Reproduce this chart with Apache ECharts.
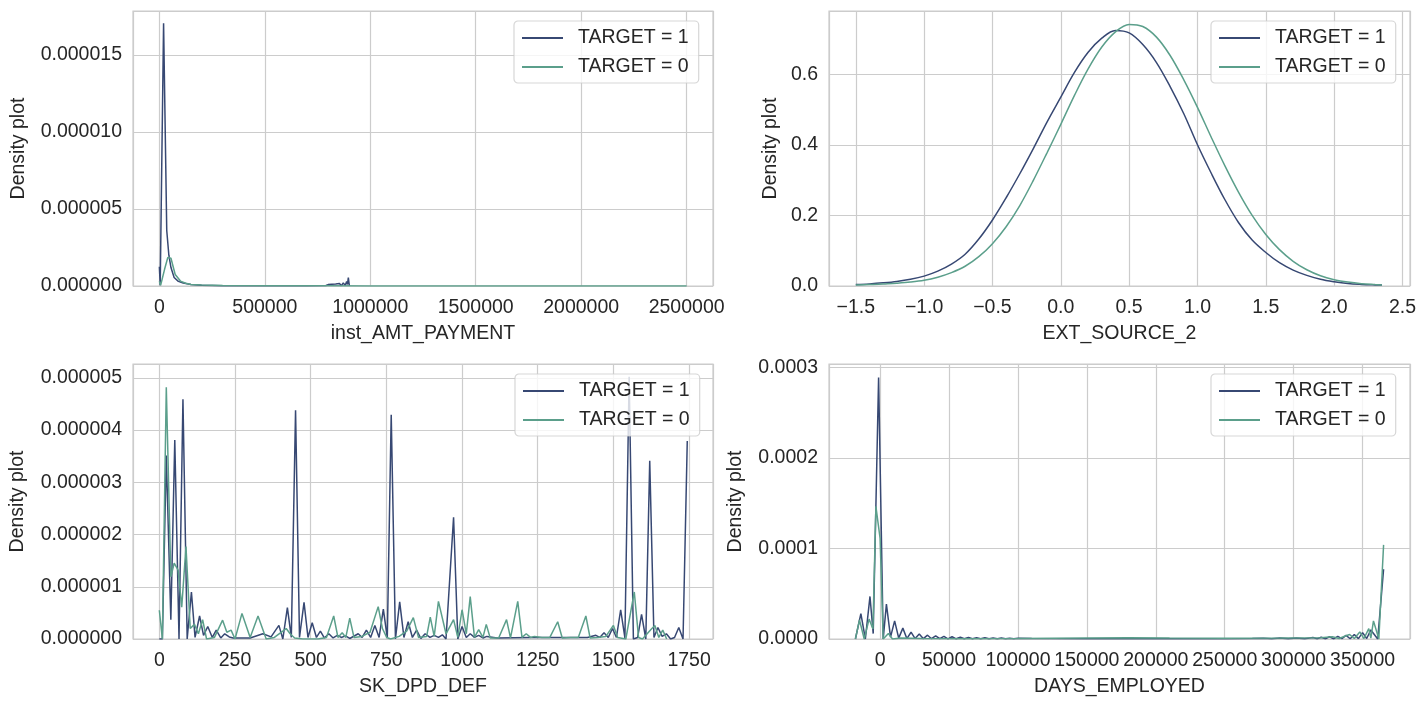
<!DOCTYPE html>
<html><head><meta charset="utf-8">
<script src="https://cdn.jsdelivr.net/npm/echarts@6/dist/echarts.min.js"></script>
<style>html,body{margin:0;padding:0;background:#fff}#c{width:1428px;height:707px}</style>
</head><body><div id="c"></div>
<script>
// ---------- series names ----------
const NAME_T1 = 'TARGET = 1';
const NAME_T0 = 'TARGET = 0';

// ---------- panel 1: inst_AMT_PAYMENT ----------
const p1T1 = [[0,1.25e-6],[4000,0.05e-6],[20000,17.06e-6],[35000,3.6e-6],[45000,2.0e-6],[55000,1.2e-6],[70000,0.55e-6],[90000,0.3e-6],[113000,0.2e-6],[150000,0.1e-6],[200000,0.05e-6],[300000,0.02e-6],[500000,0.01e-6],[700000,0.02e-6],[790000,0.03e-6],[800000,0.09e-6],[809000,0.01e-6],[818000,0.11e-6],[827000,0.01e-6],[836000,0.13e-6],[845000,0.02e-6],[854000,0.16e-6],[863000,0.02e-6],[872000,0.2e-6],[881000,0.03e-6],[888000,0.3e-6],[892000,0.1e-6],[896000,0.55e-6],[901000,0]];
const p1T0 = [[0,0.3e-6],[6000,0.05e-6],[25000,1.1e-6],[40000,1.85e-6],[55000,1.8e-6],[75000,0.75e-6],[100000,0.32e-6],[125000,0.18e-6],[150000,0.1e-6],[200000,0.06e-6],[300000,0.03e-6],[500000,0.015e-6],[800000,0.01e-6],[1000000,0.006e-6],[1500000,0.003e-6],[2000000,0.002e-6],[2500000,0.001e-6]];
const p1XTickVals = [0,500000,1000000,1500000,2000000,2500000];
const p1XTickLabels = ['0','500000','1000000','1500000','2000000','2500000'];
const p1YTickVals = [0,0.000005,0.000010,0.000015];
const p1YTickLabels = ['0.000000','0.000005','0.000010','0.000015'];

// ---------- panel 2: EXT_SOURCE_2 ----------
const p2X = [-1.5,-1.4,-1.3,-1.2,-1.1,-1.0,-0.9,-0.8,-0.7,-0.6,-0.5,-0.4,-0.3,-0.2,-0.1,0.0,0.1,0.2,0.3,0.4,0.5,0.6,0.7,0.8,0.9,1.0,1.1,1.2,1.3,1.4,1.5,1.6,1.7,1.8,1.9,2.0,2.1,2.2,2.3,2.35];
const p2T1 = [0.004,0.006,0.009,0.013,0.019,0.028,0.042,0.062,0.09,0.133,0.187,0.25,0.318,0.39,0.465,0.535,0.605,0.662,0.702,0.724,0.717,0.684,0.633,0.565,0.488,0.40,0.32,0.245,0.18,0.13,0.095,0.066,0.045,0.03,0.019,0.012,0.007,0.0045,0.003,0.0025];
const p2T0 = [0.003,0.004,0.006,0.008,0.011,0.016,0.025,0.038,0.056,0.083,0.12,0.168,0.228,0.30,0.378,0.458,0.54,0.615,0.677,0.72,0.741,0.735,0.705,0.653,0.584,0.506,0.422,0.341,0.266,0.2,0.146,0.103,0.07,0.046,0.029,0.018,0.011,0.0065,0.004,0.003];
const p2XTickVals = [-1.5,-1.0,-0.5,0.0,0.5,1.0,1.5,2.0,2.5];
const p2XTickLabels = ['\u22121.5','\u22121.0','\u22120.5','0.0','0.5','1.0','1.5','2.0','2.5'];
const p2YTickVals = [0,0.2,0.4,0.6];
const p2YTickLabels = ['0.0','0.2','0.4','0.6'];

// ---------- panel 3: SK_DPD_DEF ----------
const p3T1 = [[0,0],[10,0],[23,3.51e-6],[38,0.37e-6],[51,3.81e-6],[65,0],[78,4.59e-6],[92,0],[106,0.9e-6],[118,0.03e-6],[133,0.44e-6],[146,0.07e-6],[160,0.24e-6],[175,0.03e-6],[188,0.17e-6],[203,0.02e-6],[216,0.1e-6],[231,0.04e-6],[244,0.02e-6],[300,0.02e-6],[342,0.1e-6],[369,0.04e-6],[395,0.26e-6],[408,0],[423,0.6e-6],[436,0.03e-6],[450,4.38e-6],[463,0.03e-6],[478,0.7e-6],[491,0.03e-6],[505,0.31e-6],[519,0.03e-6],[532,0.15e-6],[545,0.02e-6],[560,0.1e-6],[574,0.02e-6],[588,0.07e-6],[601,0.03e-6],[615,0.06e-6],[629,0.01e-6],[657,0.1e-6],[670,0.03e-6],[684,0.17e-6],[698,0.03e-6],[712,0.26e-6],[726,0.03e-6],[740,0.57e-6],[753,0.02e-6],[766,4.29e-6],[780,0],[794,0.71e-6],[808,0.03e-6],[822,0.33e-6],[836,0.03e-6],[850,0.17e-6],[864,0.01e-6],[878,0.1e-6],[894,0.03e-6],[908,0.07e-6],[922,0.03e-6],[935,0.08e-6],[947,0],[972,2.33e-6],[986,0],[1000,0.24e-6],[1014,0.03e-6],[1027,0.1e-6],[1041,0.03e-6],[1055,0.07e-6],[1069,0.02e-6],[1082,0.05e-6],[1116,0.02e-6],[1226,0.03e-6],[1337,0.03e-6],[1381,0.03e-6],[1414,0.03e-6],[1442,0.07e-6],[1455,0.03e-6],[1469,0.12e-6],[1483,0.03e-6],[1497,0.2e-6],[1510,0.03e-6],[1524,0.56e-6],[1538,0.02e-6],[1552,5.02e-6],[1566,0],[1580,0.03e-6],[1593,0.47e-6],[1607,0],[1620,3.41e-6],[1634,0.03e-6],[1647,0.22e-6],[1661,0.05e-6],[1675,0.1e-6],[1689,0],[1702,0.03e-6],[1716,0.22e-6],[1730,0],[1744,3.79e-6]];
const p3T0 = [[0,0.55e-6],[10,0],[23,4.82e-6],[38,1.19e-6],[49,1.45e-6],[62,1.32e-6],[74,0.61e-6],[88,1.77e-6],[102,0.2e-6],[116,0.28e-6],[129,0.1e-6],[143,0.37e-6],[156,0],[182,0.03e-6],[209,0.36e-6],[223,0.13e-6],[237,0.17e-6],[250,0],[273,0.49e-6],[300,0.03e-6],[326,0.44e-6],[353,0],[380,0.03e-6],[419,0.2e-6],[432,0.1e-6],[447,0.02e-6],[474,0],[524,0],[552,0.03e-6],[576,0.44e-6],[590,0.03e-6],[604,0.12e-6],[616,0.03e-6],[629,0.4e-6],[643,0.03e-6],[669,0.05e-6],[696,0.13e-6],[723,0.62e-6],[737,0.2e-6],[751,0.03e-6],[764,0],[792,0.05e-6],[817,0.15e-6],[839,0.41e-6],[856,0.03e-6],[883,0.05e-6],[895,0.42e-6],[908,0.05e-6],[922,0.72e-6],[947,0.1e-6],[972,0.37e-6],[986,0.03e-6],[1000,0.56e-6],[1014,0.1e-6],[1027,0.81e-6],[1041,0.03e-6],[1055,0.18e-6],[1069,0.03e-6],[1080,0.28e-6],[1093,0.02e-6],[1121,0.02e-6],[1147,0.37e-6],[1160,0.02e-6],[1184,0.72e-6],[1198,0.03e-6],[1212,0.1e-6],[1226,0.03e-6],[1239,0.05e-6],[1264,0.03e-6],[1290,0.03e-6],[1316,0.33e-6],[1331,0.02e-6],[1358,0.03e-6],[1384,0.03e-6],[1409,0.44e-6],[1423,0.02e-6],[1447,0.03e-6],[1475,0.05e-6],[1500,0.26e-6],[1514,0.03e-6],[1541,0],[1569,0.9e-6],[1583,0.03e-6],[1596,0],[1624,0.18e-6],[1637,0.26e-6],[1650,0.03e-6],[1663,0.17e-6],[1676,0]];
const p3XTickVals = [0,250,500,750,1000,1250,1500,1750];
const p3XTickLabels = ['0','250','500','750','1000','1250','1500','1750'];
const p3YTickVals = [0,0.000001,0.000002,0.000003,0.000004,0.000005];
const p3YTickLabels = ['0.000000','0.000001','0.000002','0.000003','0.000004','0.000005'];

// ---------- panel 4: DAYS_EMPLOYED ----------
const p4T1 = [[-17912,0],[-13950,0.28e-4],[-10700,0],[-7340,0.47e-4],[-5000,0.06e-4],[-1090,2.89e-4],[2250,0],[4580,0.385e-4],[7560,0.02e-4],[10540,0.2e-4],[13500,0.01e-4],[16500,0.12e-4],[19400,0.005e-4],[22450,0.075e-4],[25400,0.005e-4],[28400,0.055e-4],[31400,0.004e-4],[34400,0.042e-4],[37300,0.003e-4],[40300,0.035e-4],[43300,0.003e-4],[46300,0.03e-4],[49200,0.002e-4],[52200,0.025e-4],[55200,0.002e-4],[58200,0.02e-4],[61100,0.002e-4],[64100,0.018e-4],[67000,0.002e-4],[70000,0.015e-4],[73000,0.002e-4],[76000,0.013e-4],[79000,0.002e-4],[82000,0.012e-4],[85000,0.002e-4],[88000,0.01e-4],[91000,0.002e-4],[94000,0.009e-4],[97000,0.002e-4],[100000,0.008e-4],[110000,0.005e-4],[150000,0.003e-4],[200000,0.002e-4],[250000,0.003e-4],[270000,0.005e-4],[278000,0.008e-4],[284000,0.002e-4],[290000,0.01e-4],[296000,0.002e-4],[302000,0.012e-4],[308000,0.002e-4],[314000,0.016e-4],[317000,0.002e-4],[320000,0.02e-4],[323000,0.002e-4],[326000,0.025e-4],[329000,0.002e-4],[332000,0.03e-4],[335000,0.003e-4],[338000,0.04e-4],[341000,0.003e-4],[344000,0.05e-4],[347000,0.004e-4],[350000,0.07e-4],[353000,0.005e-4],[356000,0.1e-4],[361000,0],[365243,0.77e-4]];
const p4T0 = [[-17912,0],[-14960,0.21e-4],[-11500,0],[-8000,0.22e-4],[-5200,0.11e-4],[-3050,1.465e-4],[0,1.11e-4],[2250,0],[6000,0.06e-4],[9000,0],[15000,0.01e-4],[30000,0.005e-4],[60000,0.004e-4],[100000,0.006e-4],[150000,0.012e-4],[180000,0.015e-4],[210000,0.01e-4],[250000,0.008e-4],[290000,0.01e-4],[320000,0.015e-4],[328000,0.025e-4],[333000,0.005e-4],[337000,0.03e-4],[340600,0.05e-4],[344000,0.005e-4],[348000,0.078e-4],[351000,0.005e-4],[354500,0.115e-4],[356000,0.01e-4],[357900,0.2e-4],[361800,0],[365243,1.04e-4]];
const p4XTickVals = [0,50000,100000,150000,200000,250000,300000,350000];
const p4XTickLabels = ['0','50000','100000','150000','200000','250000','300000','350000'];
const p4YTickVals = [0,0.0001,0.0002,0.0003];
const p4YTickLabels = ['0.0000','0.0001','0.0002','0.0003'];

// ---------- styling ----------
const FONT = 'Liberation Sans, Arial, sans-serif';
const TXT = '#262626';
const GRIDC = '#cccccc';
const C1 = '#374873';
const C0 = '#5b9f8b';
const FS = 19.5;

function lookup(v, vals, labels) {
  const step = Math.abs(vals[1] - vals[0]);
  for (let i = 0; i < vals.length; i++) {
    if (Math.abs(v - vals[i]) < step * 1e-6) return labels[i];
  }
  return '';
}

function axis(gi, name, min, max, vals, labels, nameGap, isY) {
  const interval = vals[1] - vals[0];
  return {
    type: 'value', gridIndex: gi, min: min, max: max,
    minInterval: interval, maxInterval: interval,
    splitNumber: Math.max(1, Math.round((max - min) / interval)),
    name: name, nameLocation: 'middle', nameGap: nameGap,
    nameTextStyle: {fontSize: FS, color: TXT, fontFamily: FONT},
    axisLine: {show: false}, axisTick: {show: false},
    axisLabel: {margin: isY ? 11 : 12, fontSize: FS, color: TXT, fontFamily: FONT,
      formatter: function (v) { return lookup(v, vals, labels); }},
    splitLine: {show: true, lineStyle: {color: GRIDC, width: 1.2}}
  };
}

function legend(left, top) {
  return {
    left: left, top: top, orient: 'vertical',
    icon: 'rect', itemWidth: 41, itemHeight: 1.8, itemGap: 9,
    padding: [7, 10, 6, 8],
    backgroundColor: 'rgba(255,255,255,0.8)',
    borderColor: 'rgba(204,204,204,0.8)', borderWidth: 1.2, borderRadius: 4,
    textStyle: {fontSize: FS, color: TXT, fontFamily: FONT, padding: [0, 0, 0, 10]},
    data: [NAME_T1, NAME_T0], selectedMode: false
  };
}

function line(name, gi, data, color) {
  return {
    type: 'line', name: name, xAxisIndex: gi, yAxisIndex: gi, data: data,
    symbol: 'none', showSymbol: false, smooth: false,
    lineStyle: {width: 1.5, color: color}, itemStyle: {color: color},
    emphasis: {disabled: true}
  };
}
function lineSmooth(name, gi, data, color) {
  const s = line(name, gi, data, color); s.smooth = 0.35; return s;
}

const gridBase = {show: true, borderColor: GRIDC, borderWidth: 1.2, backgroundColor: '#ffffff', containLabel: false};
const grids = [
  Object.assign({left: 133, top: 11, width: 580, height: 275}, gridBase),
  Object.assign({left: 829, top: 11, width: 581, height: 275}, gridBase),
  Object.assign({left: 133, top: 364, width: 580, height: 275}, gridBase),
  Object.assign({left: 829, top: 364, width: 581, height: 275}, gridBase)
];

const p2T1Pairs = p2X.map((x, i) => [x, p2T1[i]]);
const p2T0Pairs = p2X.map((x, i) => [x, p2T0[i]]);

const option = {
  animation: false,
  backgroundColor: '#ffffff',
  textStyle: {fontFamily: FONT, color: TXT},
  grid: grids,
  xAxis: [
    axis(0, 'inst_AMT_PAYMENT', -125000, 2625000, p1XTickVals, p1XTickLabels, 38, false),
    axis(1, 'EXT_SOURCE_2', -1.696, 2.555, p2XTickVals, p2XTickLabels, 38, false),
    axis(2, 'SK_DPD_DEF', -87, 1829, p3XTickVals, p3XTickLabels, 38, false),
    axis(3, 'DAYS_EMPLOYED', -37070, 384401, p4XTickVals, p4XTickLabels, 38, false)
  ],
  yAxis: [
    axis(0, 'Density plot', 0, 0.000017857, p1YTickVals, p1YTickLabels, 104, true),
    axis(1, 'Density plot', 0, 0.779, p2YTickVals, p2YTickLabels, 48, true),
    axis(2, 'Density plot', 0, 0.0000052632, p3YTickVals, p3YTickLabels, 105, true),
    axis(3, 'Density plot', 0, 0.0003038, p4YTickVals, p4YTickLabels, 83, true)
  ],
  legend: [legend(514, 21), legend(1211, 21), legend(515, 374), legend(1211, 374)],
  series: [
    line(NAME_T1, 0, p1T1, C1), line(NAME_T0, 0, p1T0, C0),
    lineSmooth(NAME_T1, 1, p2T1Pairs, C1), lineSmooth(NAME_T0, 1, p2T0Pairs, C0),
    line(NAME_T1, 2, p3T1, C1), line(NAME_T0, 2, p3T0, C0),
    line(NAME_T1, 3, p4T1, C1), line(NAME_T0, 3, p4T0, C0)
  ]
};

const chart = echarts.init(document.getElementById('c'), null, {renderer: 'canvas'});
chart.setOption(option);
</script></body></html>
